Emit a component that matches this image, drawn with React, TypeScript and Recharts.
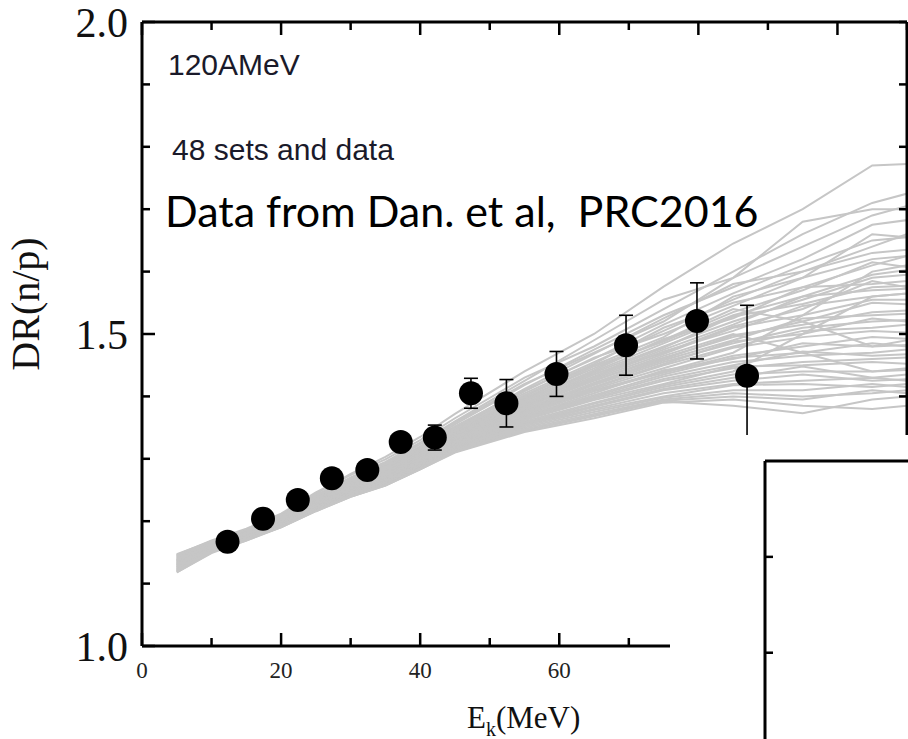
import React from "react";
import { ComposedChart, Line, Scatter, XAxis, YAxis, ErrorBar } from "recharts";

// energy grid of the 48 transport-model sets
const simEnergies = [5, 10, 15, 20, 25, 30, 35, 40, 45, 55, 65, 75, 85, 95, 105, 115];

const simSets: number[][] = [
  [1.140, 1.166, 1.186, 1.210, 1.244, 1.276, 1.303, 1.335, 1.372, 1.440, 1.500, 1.576, 1.645, 1.700, 1.770, 1.775],
  [1.146, 1.169, 1.188, 1.212, 1.246, 1.274, 1.299, 1.330, 1.365, 1.430, 1.480, 1.540, 1.600, 1.660, 1.710, 1.740],
  [1.128, 1.156, 1.180, 1.206, 1.240, 1.270, 1.295, 1.326, 1.360, 1.425, 1.490, 1.555, 1.590, 1.640, 1.690, 1.720],
  [1.136, 1.163, 1.182, 1.208, 1.242, 1.269, 1.293, 1.323, 1.358, 1.420, 1.470, 1.520, 1.590, 1.680, 1.700, 1.700],
  [1.142, 1.164, 1.184, 1.207, 1.238, 1.266, 1.291, 1.320, 1.355, 1.418, 1.475, 1.530, 1.575, 1.620, 1.675, 1.690],
  [1.120, 1.152, 1.176, 1.202, 1.237, 1.267, 1.290, 1.318, 1.352, 1.410, 1.460, 1.515, 1.565, 1.610, 1.650, 1.660],
  [1.134, 1.161, 1.181, 1.205, 1.239, 1.265, 1.288, 1.317, 1.350, 1.412, 1.468, 1.525, 1.580, 1.600, 1.640, 1.680],
  [1.144, 1.167, 1.183, 1.204, 1.235, 1.262, 1.286, 1.315, 1.349, 1.405, 1.455, 1.505, 1.555, 1.600, 1.630, 1.640],
  [1.126, 1.155, 1.177, 1.203, 1.236, 1.264, 1.287, 1.314, 1.348, 1.408, 1.462, 1.500, 1.545, 1.590, 1.660, 1.650],
  [1.131, 1.158, 1.179, 1.201, 1.233, 1.263, 1.285, 1.313, 1.347, 1.400, 1.450, 1.495, 1.560, 1.590, 1.620, 1.630],
  [1.138, 1.162, 1.180, 1.204, 1.236, 1.260, 1.284, 1.312, 1.346, 1.402, 1.452, 1.510, 1.550, 1.575, 1.610, 1.640],
  [1.122, 1.153, 1.175, 1.200, 1.232, 1.261, 1.283, 1.311, 1.345, 1.398, 1.445, 1.490, 1.540, 1.520, 1.480, 1.500],
  [1.147, 1.168, 1.185, 1.206, 1.235, 1.259, 1.282, 1.310, 1.344, 1.396, 1.448, 1.488, 1.535, 1.570, 1.615, 1.600],
  [1.129, 1.157, 1.177, 1.201, 1.233, 1.260, 1.281, 1.309, 1.343, 1.395, 1.440, 1.485, 1.530, 1.560, 1.595, 1.610],
  [1.135, 1.160, 1.178, 1.202, 1.234, 1.258, 1.280, 1.308, 1.342, 1.394, 1.442, 1.492, 1.525, 1.575, 1.580, 1.590],
  [1.118, 1.150, 1.174, 1.199, 1.231, 1.259, 1.282, 1.307, 1.341, 1.392, 1.438, 1.480, 1.520, 1.555, 1.590, 1.600],
  [1.141, 1.165, 1.181, 1.203, 1.232, 1.257, 1.279, 1.306, 1.340, 1.390, 1.435, 1.478, 1.528, 1.548, 1.575, 1.580],
  [1.133, 1.159, 1.177, 1.200, 1.230, 1.256, 1.278, 1.306, 1.340, 1.388, 1.432, 1.475, 1.515, 1.560, 1.570, 1.575],
  [1.124, 1.154, 1.176, 1.201, 1.231, 1.257, 1.277, 1.305, 1.339, 1.387, 1.436, 1.470, 1.512, 1.540, 1.585, 1.565],
  [1.145, 1.166, 1.182, 1.202, 1.231, 1.255, 1.276, 1.304, 1.338, 1.385, 1.430, 1.472, 1.505, 1.545, 1.560, 1.570],
  [1.130, 1.157, 1.176, 1.199, 1.229, 1.254, 1.275, 1.303, 1.337, 1.384, 1.428, 1.468, 1.510, 1.530, 1.555, 1.555],
  [1.137, 1.161, 1.178, 1.200, 1.228, 1.253, 1.274, 1.302, 1.336, 1.383, 1.425, 1.465, 1.500, 1.470, 1.440, 1.450],
  [1.121, 1.151, 1.173, 1.198, 1.229, 1.254, 1.273, 1.301, 1.335, 1.382, 1.426, 1.462, 1.495, 1.520, 1.550, 1.545],
  [1.143, 1.164, 1.179, 1.199, 1.227, 1.252, 1.272, 1.300, 1.334, 1.380, 1.422, 1.460, 1.498, 1.515, 1.535, 1.540],
  [1.127, 1.155, 1.175, 1.198, 1.228, 1.252, 1.271, 1.299, 1.333, 1.378, 1.420, 1.458, 1.490, 1.525, 1.530, 1.535],
  [1.134, 1.159, 1.176, 1.197, 1.226, 1.251, 1.270, 1.298, 1.332, 1.377, 1.418, 1.455, 1.485, 1.510, 1.520, 1.525],
  [1.119, 1.150, 1.172, 1.197, 1.227, 1.251, 1.269, 1.297, 1.331, 1.376, 1.415, 1.452, 1.488, 1.500, 1.525, 1.515],
  [1.139, 1.162, 1.177, 1.198, 1.225, 1.250, 1.269, 1.296, 1.330, 1.375, 1.414, 1.450, 1.480, 1.505, 1.510, 1.520],
  [1.125, 1.153, 1.173, 1.196, 1.226, 1.249, 1.268, 1.295, 1.329, 1.373, 1.412, 1.445, 1.478, 1.495, 1.505, 1.500],
  [1.132, 1.158, 1.175, 1.197, 1.224, 1.248, 1.267, 1.294, 1.328, 1.372, 1.410, 1.440, 1.470, 1.530, 1.600, 1.620],
  [1.146, 1.167, 1.180, 1.198, 1.224, 1.248, 1.266, 1.293, 1.327, 1.370, 1.408, 1.438, 1.465, 1.480, 1.495, 1.490],
  [1.123, 1.152, 1.172, 1.195, 1.224, 1.247, 1.266, 1.292, 1.326, 1.368, 1.405, 1.442, 1.460, 1.485, 1.480, 1.485],
  [1.136, 1.160, 1.175, 1.196, 1.223, 1.246, 1.265, 1.291, 1.325, 1.367, 1.402, 1.435, 1.462, 1.470, 1.485, 1.475],
  [1.129, 1.156, 1.173, 1.195, 1.222, 1.246, 1.264, 1.290, 1.324, 1.366, 1.400, 1.432, 1.455, 1.465, 1.470, 1.480],
  [1.142, 1.163, 1.176, 1.196, 1.222, 1.245, 1.264, 1.290, 1.323, 1.365, 1.398, 1.428, 1.450, 1.472, 1.465, 1.470],
  [1.120, 1.150, 1.170, 1.194, 1.222, 1.245, 1.263, 1.289, 1.322, 1.363, 1.396, 1.425, 1.445, 1.455, 1.460, 1.465],
  [1.133, 1.158, 1.173, 1.194, 1.221, 1.244, 1.262, 1.288, 1.321, 1.362, 1.394, 1.420, 1.448, 1.450, 1.455, 1.450],
  [1.127, 1.154, 1.171, 1.193, 1.221, 1.244, 1.262, 1.288, 1.320, 1.360, 1.390, 1.418, 1.440, 1.500, 1.560, 1.570],
  [1.140, 1.162, 1.174, 1.194, 1.220, 1.243, 1.261, 1.287, 1.319, 1.358, 1.388, 1.415, 1.435, 1.440, 1.440, 1.445],
  [1.124, 1.152, 1.170, 1.192, 1.220, 1.243, 1.261, 1.287, 1.318, 1.357, 1.385, 1.412, 1.430, 1.448, 1.430, 1.440],
  [1.131, 1.157, 1.172, 1.193, 1.219, 1.242, 1.260, 1.286, 1.317, 1.355, 1.383, 1.410, 1.425, 1.435, 1.425, 1.430],
  [1.144, 1.164, 1.175, 1.193, 1.219, 1.242, 1.260, 1.286, 1.316, 1.354, 1.380, 1.405, 1.420, 1.425, 1.430, 1.420],
  [1.118, 1.149, 1.169, 1.191, 1.218, 1.241, 1.259, 1.285, 1.315, 1.352, 1.378, 1.400, 1.418, 1.420, 1.415, 1.425],
  [1.137, 1.160, 1.172, 1.192, 1.218, 1.241, 1.259, 1.285, 1.314, 1.350, 1.375, 1.398, 1.410, 1.410, 1.420, 1.410],
  [1.126, 1.153, 1.170, 1.191, 1.217, 1.240, 1.258, 1.284, 1.313, 1.348, 1.372, 1.395, 1.405, 1.400, 1.405, 1.415],
  [1.130, 1.156, 1.171, 1.191, 1.217, 1.240, 1.258, 1.284, 1.312, 1.346, 1.370, 1.393, 1.400, 1.395, 1.410, 1.400],
  [1.122, 1.151, 1.169, 1.190, 1.216, 1.239, 1.257, 1.283, 1.311, 1.345, 1.368, 1.392, 1.385, 1.373, 1.395, 1.405],
  [1.138, 1.161, 1.171, 1.190, 1.216, 1.239, 1.257, 1.283, 1.310, 1.343, 1.365, 1.390, 1.395, 1.385, 1.380, 1.390],
];

// measured double ratio (Dan et al.)
const expEnergies = [12.3, 17.4, 22.4, 27.3, 32.4, 37.2, 42.1, 47.3, 52.4, 59.6, 69.6, 79.8, 87.0];
const expRatio = [1.167, 1.204, 1.234, 1.269, 1.282, 1.327, 1.334, 1.405, 1.389, 1.436, 1.482, 1.521, 1.433];
const expError = [0.01, 0.01, 0.01, 0.01, 0.01, 0.01, 0.02, 0.024, 0.038, 0.036, 0.048, 0.061, 0.113];

const xTicks = [0, 10, 20, 30, 40, 50, 60, 70, 80, 90, 100, 110];
const yTicks = [1.0, 1.1, 1.2, 1.3, 1.4, 1.5, 1.6, 1.7, 1.8, 1.9, 2.0];
const yLabelTicks = [1.0, 1.5, 2.0];

// second (cut off) panel
const insetXTicks = [1, 2];
const insetYTicks = [1, 2];

const simData = simSets.map((set) => set.map((y, i) => ({ x: simEnergies[i], y })));
const expData = expEnergies.map((x, i) => ({ x, y: expRatio[i], err: expError[i] }));

const serif = "'Liberation Serif', 'Times New Roman', serif";
const sans = "'Liberation Sans', Arial, sans-serif";
const axisStyle = { stroke: "#000", strokeWidth: 3 };

const BottomTick = (props: any) => {
  const { x, y, payload } = props;
  const major = payload.value % 20 === 0;
  return (
    <g>
      <line x1={x} y1={y} x2={x} y2={y - (major ? 13 : 8)} stroke="#000" strokeWidth={2.5} />
      {major && (
        <text x={x} y={y + 32} textAnchor="middle" fontFamily={serif} fontSize={23} fill="#222">
          {payload.value}
        </text>
      )}
    </g>
  );
};

const TopTick = (props: any) => {
  const { x, y, payload } = props;
  const major = payload.value % 20 === 0;
  return <line x1={x} y1={y} x2={x} y2={y + (major ? 13 : 8)} stroke="#000" strokeWidth={2.5} />;
};

const LeftTick = (props: any) => {
  const { x, y, payload } = props;
  const v = payload.value;
  const major = yLabelTicks.some((t) => Math.abs(t - v) < 1e-6);
  return (
    <g>
      <line x1={x} y1={y} x2={x + (major ? 13 : 8)} y2={y} stroke="#000" strokeWidth={2.5} />
      {major && (
        <text x={x - 14} y={y} dy="0.36em" textAnchor="end" fontFamily={serif} fontSize={42} fill="#111">
          {v.toFixed(1)}
        </text>
      )}
    </g>
  );
};

const RightTick = (props: any) => {
  const { x, y } = props;
  return <line x1={x} y1={y} x2={x - 8} y2={y} stroke="#000" strokeWidth={2.5} />;
};

const InsetTopTick = (props: any) => {
  const { x, y } = props;
  return <line x1={x} y1={y} x2={x} y2={y + 8} stroke="#000" strokeWidth={2.5} />;
};

const InsetLeftTick = (props: any) => {
  const { x, y } = props;
  return <line x1={x} y1={y} x2={x + 8} y2={y} stroke="#000" strokeWidth={2.5} />;
};

export default function App() {
  return (
    <div style={{ position: "absolute", left: 0, top: 0, width: 908, height: 739, background: "#fff" }}>
      <ComposedChart width={908} height={739} margin={{ top: 21, right: 0, bottom: 33, left: 82 }}>
        <XAxis
          xAxisId="b"
          dataKey="x"
          type="number"
          domain={[0, 110]}
          allowDataOverflow
          ticks={xTicks}
          interval={0}
          height={60}
          tickSize={0}
          tickMargin={0}
          axisLine={axisStyle}
          tickLine={false}
          tick={<BottomTick />}
        />
        <XAxis
          xAxisId="t"
          orientation="top"
          dataKey="x"
          type="number"
          domain={[0, 110]}
          allowDataOverflow
          ticks={xTicks}
          interval={0}
          height={1}
          tickSize={0}
          tickMargin={0}
          axisLine={axisStyle}
          tickLine={false}
          tick={<TopTick />}
        />
        <YAxis
          yAxisId="l"
          dataKey="y"
          type="number"
          domain={[1, 2]}
          allowDataOverflow
          ticks={yTicks}
          interval={0}
          width={60}
          tickSize={0}
          tickMargin={0}
          axisLine={axisStyle}
          tickLine={false}
          tick={<LeftTick />}
        />
        <YAxis
          yAxisId="r"
          orientation="right"
          dataKey="y"
          type="number"
          domain={[1, 2]}
          allowDataOverflow
          ticks={yTicks}
          interval={0}
          width={1}
          tickSize={0}
          tickMargin={0}
          axisLine={axisStyle}
          tickLine={false}
          tick={<RightTick />}
        />
        {simData.map((d, i) => (
          <Line
            key={i}
            xAxisId="b"
            yAxisId="l"
            data={d}
            dataKey="y"
            type="linear"
            stroke="#c6c6c6"
            strokeWidth={2}
            dot={false}
            activeDot={false}
            isAnimationActive={false}
          />
        ))}
        <Scatter
          xAxisId="b"
          yAxisId="l"
          data={expData}
          dataKey="y"
          isAnimationActive={false}
          shape={(p: any) => <circle cx={p.cx} cy={p.cy} r={12} fill="#000" />}
        >
          <ErrorBar dataKey="err" direction="y" width={7} stroke="#000" strokeWidth={1.6} />
        </Scatter>
      </ComposedChart>

      <svg width={908} height={739} style={{ position: "absolute", left: 0, top: 0, pointerEvents: "none" }}>
        <text x={168} y={75} fontFamily={sans} fontSize={30} fill="#1a1a2a">
          120AMeV
        </text>
        <text x={172} y={160} fontFamily={sans} fontSize={30} fill="#1a1a2a">
          48 sets and data
        </text>
        <text x={165} y={227} fontFamily="Lato, 'Open Sans', sans-serif" fontSize={43} fill="#000" style={{ whiteSpace: "pre" }}>
          {"Data from Dan. et al,  PRC2016"}
        </text>
        <text
          x={25}
          y={304}
          transform="rotate(-90 25 304)"
          textAnchor="middle"
          dy="0.35em"
          fontFamily={serif}
          fontSize={40}
          fill="#111"
        >
          DR(n/p)
        </text>
        <text x={467} y={728} fontFamily={serif} fontSize={31} fill="#111">
          E
          <tspan fontSize={20} dy={8}>k</tspan>
          <tspan dy={-8}>(MeV)</tspan>
        </text>
      </svg>

      <div style={{ position: "absolute", left: 670, top: 435, width: 238, height: 304, background: "#fff" }}>
        <ComposedChart width={238} height={304} margin={{ top: 25, right: 0, bottom: 0, left: 94 }}>
          <XAxis
            xAxisId="it"
            orientation="top"
            type="number"
            domain={[0, 2.58]}
            allowDataOverflow
            ticks={insetXTicks}
            interval={0}
            height={1}
            tickSize={0}
            tickMargin={0}
            axisLine={axisStyle}
            tickLine={false}
            tick={<InsetTopTick />}
          />
          <YAxis
            yAxisId="il"
            type="number"
            domain={[0, 2.9]}
            reversed
            allowDataOverflow
            ticks={insetYTicks}
            interval={0}
            width={1}
            tickSize={0}
            tickMargin={0}
            axisLine={axisStyle}
            tickLine={false}
            tick={<InsetLeftTick />}
          />
        </ComposedChart>
      </div>
    </div>
  );
}
